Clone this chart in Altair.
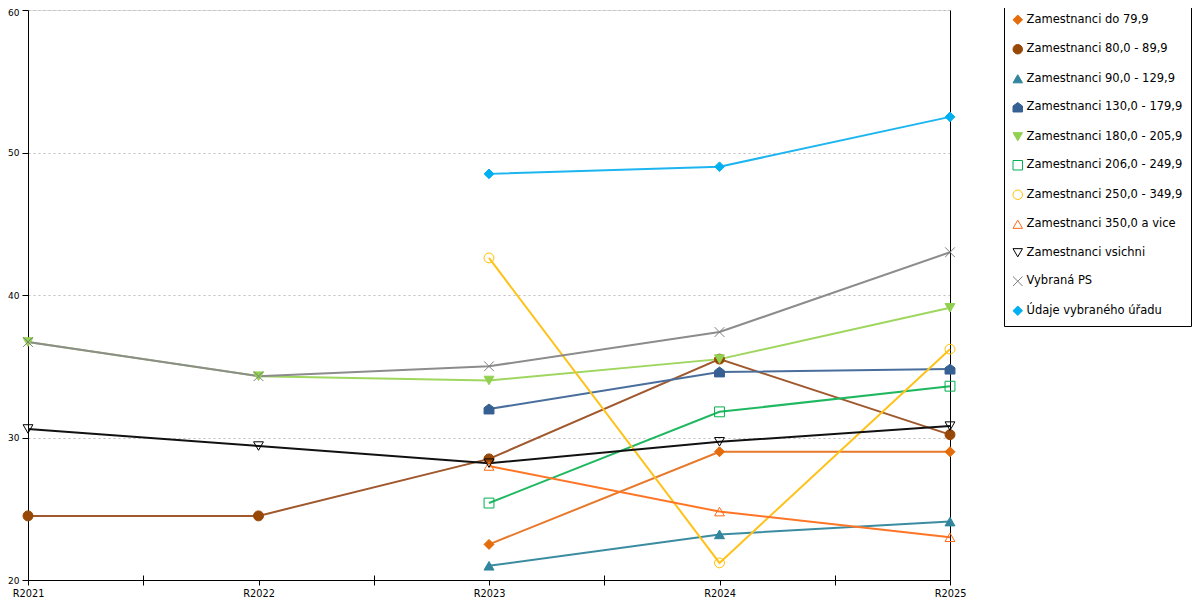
import altair as alt
import pandas as pd

periods = ["R2021", "R2022", "R2023", "R2024", "R2025"]
years = [2021, 2022, 2023, 2024, 2025]
midpoints = [2021.5, 2022.5, 2023.5, 2024.5]
y_ticks = [20, 30, 40, 50, 60]

names = [
    "Zamestnanci do 79,9",
    "Zamestnanci 80,0 - 89,9",
    "Zamestnanci 90,0 - 129,9",
    "Zamestnanci 130,0 - 179,9",
    "Zamestnanci 180,0 - 205,9",
    "Zamestnanci 206,0 - 249,9",
    "Zamestnanci 250,0 - 349,9",
    "Zamestnanci 350,0 a vice",
    "Zamestnanci vsichni",
    "Vybraná PS",
    "Údaje vybraného úřadu",
]

do79 = [None, None, 22.5, 29.0, 29.0]
z80 = [24.5, 24.5, 28.5, 35.5, 30.2]
z90 = [None, None, 21.0, 23.2, 24.1]
z130 = [None, None, 32.0, 34.6, 34.8]
z180 = [36.7, 34.3, 34.0, 35.5, 39.1]
z206 = [None, None, 25.4, 31.8, 33.6]
z250 = [None, None, 42.6, 21.2, 36.2]
z350 = [None, None, 28.0, 24.8, 23.0]
vsichni = [30.6, 29.4, 28.2, 29.7, 30.8]
ps = [36.7, 34.3, 35.0, 37.4, 43.0]
urad = [None, None, 48.5, 49.0, 52.5]

series_values = [do79, z80, z90, z130, z180, z206, z250, z350, vsichni, ps, urad]

marker_colors = ["#E46C0A", "#974706", "#31859C", "#366092", "#92D050", "#00B050",
                 "#FFC000", "#FF6A13", "#000000", "#7F7F7F", "#00B0F0"]
line_colors = ["#E8782A", "#A0582D", "#3B8CA0", "#4A6E9C", "#9ED65E", "#1FB860",
               "#FFC21A", "#FF7526", "#111111", "#8C8C8C", "#1CB5F0"]
fills = ["#E46C0A", "#974706", "#31859C", "#366092", "#92D050", "transparent",
         "transparent", "transparent", "transparent", "transparent", "#00B0F0"]
house = "M0,-1L1,-0.25L1,1L-1,1L-1,-0.25Z"
xmark = "M-1,-1L1,1M-1,1L1,-1"
shapes = ["diamond", "circle", "triangle-up", house, "triangle-down", "square",
          "circle", "triangle-up", "triangle-down", xmark, "diamond"]
marker_sizes = [95, 100, 110, 95, 110, 85, 90, 110, 110, 100, 95]
line_widths = [2, 2, 2, 2, 2, 2, 1.5, 2, 2, 2, 2]

rows = []
for name, vals in zip(names, series_values):
    for yr, v in zip(years, vals):
        if v is not None:
            rows.append({"series": name, "year": yr, "value": v})
df = pd.DataFrame(rows)

label_expr = " : ".join(
    f"datum.value == {yr} ? '{lab}'" for yr, lab in zip(years, periods)
) + " : ''"

font = "DejaVu Sans"
x_scale = alt.Scale(domain=[years[0], years[-1]], nice=False, zero=False)
y_scale = alt.Scale(domain=[y_ticks[0], y_ticks[-1]], nice=False, zero=False)

# helper scales use the reversed domain so that they do not merge with the marker legend
rev = names[::-1]

lines = alt.Chart(df).mark_line().encode(
    x=alt.X("year:Q", scale=x_scale, axis=alt.Axis(
        orient="bottom", values=years, labelExpr=label_expr, title=None,
        tickSize=5, labelPadding=3, labelFontSize=9.8, labelFont=font,
        labelColor="black", domainColor="black", tickColor="black",
        grid=False, labelFlush=False)),
    y=alt.Y("value:Q", scale=y_scale, axis=alt.Axis(
        orient="left", values=y_ticks, title=None, tickSize=6, labelPadding=3,
        labelFontSize=9, labelFont=font, labelColor="black",
        labelOffset={"condition": {"test": f"datum.value == {y_ticks[-1]}", "value": 2}, "value": 0},
        domainColor="black", tickColor="black",
        grid=True, gridDash=[2, 3], gridColor="#BFBFBF")),
    color=alt.Color("series:N", scale=alt.Scale(domain=rev, range=line_colors[::-1]), legend=None),
    strokeWidth=alt.StrokeWidth("series:N", scale=alt.Scale(domain=rev, range=line_widths[::-1]), legend=None),
)

leg = alt.Legend(
    orient="none", legendX=976, legendY=-8, title=" ", titleFontSize=1, titlePadding=3,
    strokeColor="black", fillColor="white", padding=8,
    labelFont=font, labelFontSize=11.5, labelColor="black", labelLimit=400,
    labelOffset=3, rowPadding=15.5, symbolSize=90, symbolStrokeWidth=1,
)

points = alt.Chart(df).mark_point(strokeWidth=1, opacity=1).encode(
    x=alt.X("year:Q", scale=x_scale, axis=alt.Axis(
        orient="bottom", values=midpoints, labels=False, title=None,
        tickSize=10, offset=-5, domain=False, grid=False, tickColor="black")),
    y=alt.Y("value:Q", scale=y_scale, axis=alt.Axis(
        orient="right", labels=False, ticks=False, grid=False, title=None,
        domainColor="black")),
    shape=alt.Shape("series:N", scale=alt.Scale(domain=names, range=shapes), legend=leg),
    stroke=alt.Stroke("series:N", scale=alt.Scale(domain=names, range=marker_colors), legend=leg),
    fill=alt.Fill("series:N", scale=alt.Scale(domain=names, range=fills), legend=leg),
    size=alt.Size("series:N", scale=alt.Scale(domain=rev, range=marker_sizes[::-1]), legend=None),
)

chart = alt.layer(lines, points).resolve_axis(x="independent", y="independent").properties(
    width=922, height=570,
    autosize=alt.AutoSizeParams(type="none"),
    padding={"left": 20, "top": 2, "right": 242, "bottom": 20},
).configure_view(stroke=None).configure(background="white")

chart.save("out.html", embed_options={"renderer": "svg", "actions": False})
